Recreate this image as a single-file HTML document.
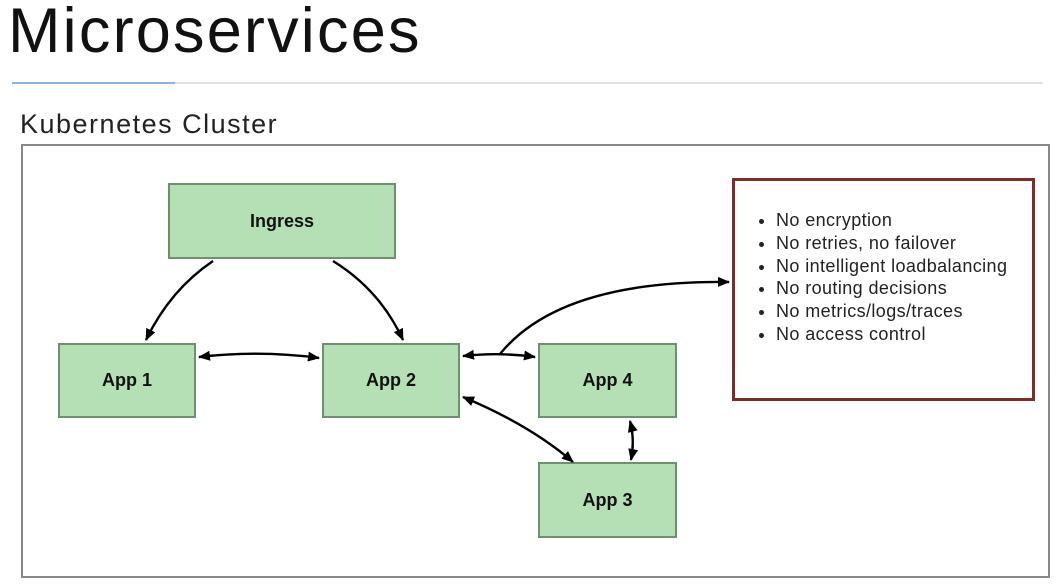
<!DOCTYPE html>
<html><head><style>
body{margin:0;width:1061px;height:584px;background:#fff;overflow:hidden;position:relative;font-family:"Liberation Sans",sans-serif}
.t{position:absolute;left:8px;top:-5px;font-size:63px;font-weight:normal;color:#111;letter-spacing:2.2px}
.k{position:absolute;left:20px;top:109px;font-size:27px;color:#222;letter-spacing:1.5px}
.b{position:absolute;background:#b5dfb5;border:2px solid #6f8f6f;box-sizing:border-box;display:flex;align-items:center;justify-content:center;font-weight:bold;font-size:18px;color:#111}
ul{position:absolute;left:758px;top:209px;margin:0;padding:0 0 0 18px;font-size:18px;line-height:22.8px;color:#222;letter-spacing:0.4px}
</style></head><body>
<div class="t">Microservices</div>
<div style="position:absolute;left:12px;top:82px;width:1031px;height:2px;background:#dde0e3"></div>
<div style="position:absolute;left:12px;top:82px;width:163px;height:2px;background:#8fb1d9"></div>
<div class="k">Kubernetes Cluster</div>
<div style="position:absolute;left:21px;top:144px;width:1029px;height:434px;border:2px solid #888;box-sizing:border-box"></div>
<div class="b" style="left:168px;top:183px;width:228px;height:76px">Ingress</div>
<div class="b" style="left:58px;top:343px;width:138px;height:75px">App 1</div>
<div class="b" style="left:322px;top:343px;width:138px;height:75px">App 2</div>
<div class="b" style="left:538px;top:343px;width:139px;height:75px">App 4</div>
<div class="b" style="left:538px;top:462px;width:139px;height:76px">App 3</div>
<div style="position:absolute;left:732px;top:178px;width:303px;height:223px;border:3px solid #7f2c27;box-sizing:border-box"></div>
<ul><li>No encryption</li><li>No retries, no failover</li><li>No intelligent loadbalancing</li><li>No routing decisions</li><li>No metrics/logs/traces</li><li>No access control</li></ul>
<svg width="1061" height="584" style="position:absolute;left:0;top:0">
<defs><marker id="a" markerWidth="14" markerHeight="14" refX="11" refY="6" orient="auto-start-reverse" markerUnits="userSpaceOnUse"><path d="M0,1 L12,6 L0,11 z" fill="#000"/></marker></defs>
<g fill="none" stroke="#000" stroke-width="2.4">
<path d="M213,261 Q170,290 146,340" marker-end="url(#a)"/>
<path d="M333,261 Q380,290 403,340" marker-end="url(#a)"/>
<path d="M199,357 Q260,350 319,358" marker-start="url(#a)" marker-end="url(#a)"/>
<path d="M463,356 Q500,352 535,357" marker-start="url(#a)" marker-end="url(#a)"/>
<path d="M500,354 Q560,280 729,282" marker-end="url(#a)"/>
<path d="M463,397 Q530,425 573,462" marker-start="url(#a)" marker-end="url(#a)"/>
<path d="M630,421 Q635,440 631,460" marker-start="url(#a)" marker-end="url(#a)"/>
</g></svg>
</body></html>
